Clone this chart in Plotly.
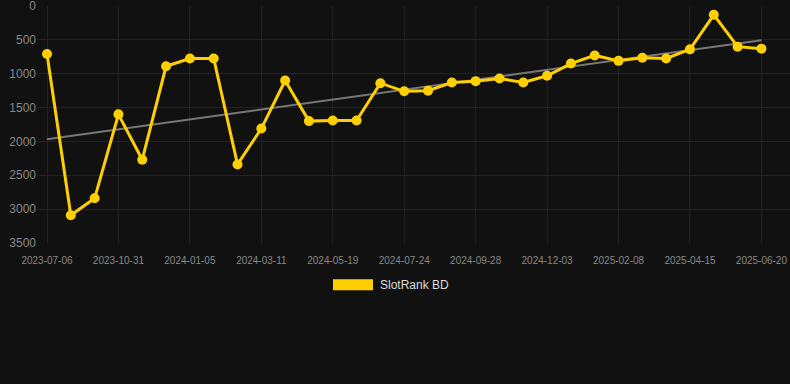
import numpy as np
import plotly.graph_objects as go

dates = ["2023-07-06", "2023-08-14", "2023-09-22", "2023-10-31", "2023-11-22", "2023-12-14",
         "2024-01-05", "2024-01-27", "2024-02-18", "2024-03-11", "2024-04-03", "2024-04-26",
         "2024-05-19", "2024-06-10", "2024-07-02", "2024-07-24", "2024-08-15", "2024-09-06",
         "2024-09-28", "2024-10-20", "2024-11-11", "2024-12-03", "2024-12-25", "2025-01-17",
         "2025-02-08", "2025-03-02", "2025-03-24", "2025-04-15", "2025-05-07", "2025-05-29",
         "2025-06-20"]
ranks = [710, 3090, 2840, 1600, 2270, 890, 775, 775, 2340, 1810, 1100, 1700, 1690, 1690,
         1140, 1260, 1250, 1130, 1110, 1070, 1130, 1030, 850, 730, 810, 765, 775, 640, 130,
         600, 630]
tick_labels = dates[::3]
y_ticks = [0, 500, 1000, 1500, 2000, 2500, 3000, 3500]
series_name = "SlotRank BD"

idx = np.arange(len(ranks))
slope, intercept = np.polyfit(idx, ranks, 1)
trend = slope * idx + intercept

YELLOW = "#FFD000"
fig = go.Figure()
fig.add_trace(go.Scatter(x=idx, y=trend, mode="lines",
                         line=dict(color="#777777", width=2), showlegend=False,
                         hoverinfo="skip"))
fig.add_trace(go.Scatter(x=idx, y=ranks, mode="lines+markers", name=series_name,
                         line=dict(color=YELLOW, width=3),
                         marker=dict(color=YELLOW, size=10), showlegend=False,
                         text=dates))

# manual legend
fig.add_shape(type="rect", xref="paper", yref="paper",
              x0=(333 - 37) / 753, x1=(373 - 37) / 753,
              y0=(242.7 - 290) / 236.7, y1=(242.7 - 279) / 236.7,
              fillcolor=YELLOW, line=dict(width=0))
fig.add_annotation(xref="paper", yref="paper", x=(378 - 37) / 753,
                   y=(242.7 - 284.5) / 236.7, text=series_name, showarrow=False,
                   xanchor="left", yanchor="middle",
                   font=dict(size=12, color="#dddddd"))

fig.update_layout(
    width=790, height=384,
    margin=dict(l=37, r=0, t=6, b=141.3),
    paper_bgcolor="#111111", plot_bgcolor="#111111",
    font=dict(family="Liberation Sans, Arial, sans-serif", color="#888888"),
    showlegend=False,
    xaxis=dict(range=[-0.42, 31.2], tickvals=idx[::3], ticktext=tick_labels,
               showgrid=True, gridcolor="#222222", gridwidth=1, zeroline=False,
               tickfont=dict(size=10, color="#888888"), ticks="", showline=False,
               ticklabelstandoff=10),
    yaxis=dict(range=[3500, 0], tickvals=y_ticks, showgrid=True, gridcolor="#222222",
               zeroline=False, tickfont=dict(size=12, color="#888888"), ticks="",
               ticklabelstandoff=0, ticklabeloverflow="allow"),
)
fig.write_html("out.html", config={"displayModeBar": False},
               post_script="document.body.style.margin='0';document.body.style.background='#111111';")
